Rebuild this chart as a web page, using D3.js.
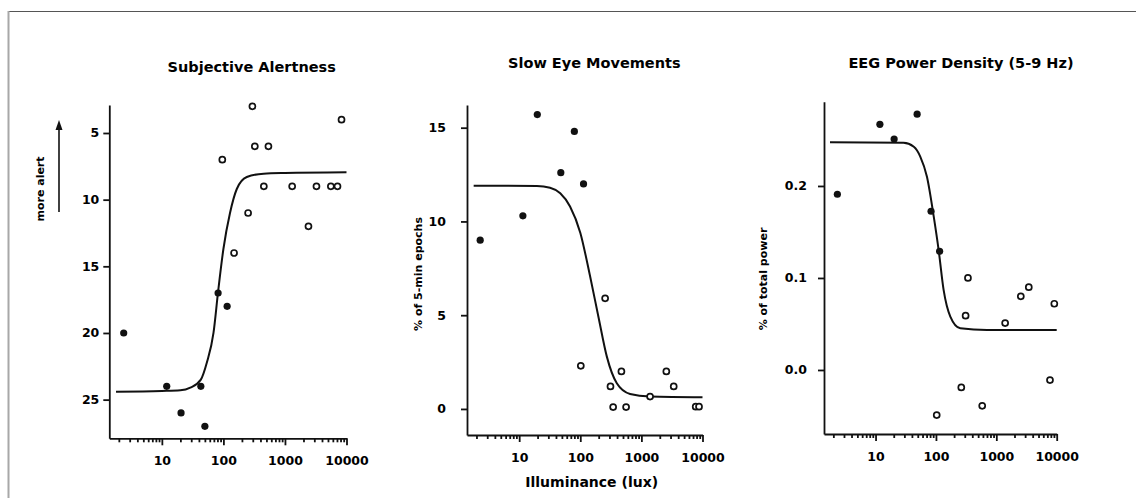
<!DOCTYPE html>
<html>
<head>
<meta charset="utf-8">
<script src="https://cdn.jsdelivr.net/npm/d3@7"></script>
<style>
  body { margin: 0; background: #fff; }
  svg text { font-family: "DejaVu Sans", "Liberation Sans", Arial, sans-serif; font-weight: bold; fill: #000; }
</style>
</head>
<body>
<svg id="chart" width="1136" height="498"></svg>
<script>
// [lux, value] pairs
const alertFilled = [[2.4, 20], [12, 24], [20.5, 26], [43, 24], [50, 27], [82, 17], [115, 18]];
const alertOpen = [[96, 7], [149, 14], [252, 11], [296, 3], [324, 6], [454, 9], [539, 6],
  [1310, 9], [2410, 12], [3250, 9], [5570, 9], [7140, 9], [8300, 4]];
const alertCurve = [[1.8, 24.4], [10, 24.35], [20, 24.3], [29, 24.1], [43, 23.5], [54, 22.2],
  [69, 20], [82, 16.9], [100, 13.7], [128, 11], [165, 9.2], [240, 8.3], [450, 8.05], [1000, 8.0], [10000, 7.95]];

const semFilled = [[2.3, 9], [11.5, 10.3], [19.8, 15.7], [48, 12.6], [80, 14.8], [113, 12]];
const semOpen = [[102, 2.3], [255, 5.9], [312, 1.2], [345, 0.1], [471, 2], [562, 0.1],
  [1387, 0.66], [2560, 2], [3380, 1.2], [7740, 0.12], [8770, 0.12]];
const semCurve = [[1.8, 11.91], [19.5, 11.89], [32, 11.8], [47, 11.5], [68, 10.8], [100, 9.4],
  [145, 7.06], [198, 4.92], [272, 2.79], [396, 1.37], [653, 0.8], [1387, 0.66], [10000, 0.62]];

const eegFilled = [[2.33, 0.191], [11.8, 0.267], [20.3, 0.251], [48.8, 0.278], [83, 0.1725], [115, 0.129]];
const eegOpen = [[103, -0.049], [263, -0.019], [310, 0.059], [339, 0.1], [584, -0.039],
  [1400, 0.051], [2545, 0.08], [3450, 0.09], [7740, -0.011], [9130, 0.072]];
const eegCurve = [[1.76, 0.2475], [29, 0.247], [43, 0.2427], [55, 0.232], [71, 0.21], [92, 0.1666],
  [111, 0.13], [134, 0.087], [173, 0.058], [253, 0.0453], [698, 0.0435], [10000, 0.0435]];

const xMajorTicks = [10, 100, 1000, 10000];
const alertTicks = [5, 10, 15, 20, 25];
const semTicks = [0, 5, 10, 15];
const eegTicks = [0.0, 0.1, 0.2];

const svg = d3.select("#chart");

// frame of the scanned figure
svg.append("line").attr("x1", 8).attr("x2", 1136).attr("y1", 11.5).attr("y2", 11.5)
  .attr("stroke", "#555").attr("stroke-width", 1.2);
svg.append("line").attr("x1", 8.5).attr("x2", 8.5).attr("y1", 11).attr("y2", 498)
  .attr("stroke", "#a8a8a8").attr("stroke-width", 2);

const panels = [
  {
    title: "Subjective Alertness", titleX: 251.7, titleY: 71.5,
    filled: alertFilled, open: alertOpen, curve: alertCurve, yTicks: alertTicks,
    xRange: [109.3, 346.5], yDomain: [2.9, 27.9], yRange: [105, 438.3],
    yPad: 4, yFormat: d3.format("d"),
  },
  {
    title: "Slow Eye Movements", titleX: 594.3, titleY: 68,
    filled: semFilled, open: semOpen, curve: semCurve, yTicks: semTicks,
    xRange: [467, 702.5], yDomain: [-1.39, 16.21], yRange: [435, 105],
    yPad: 15, yFormat: d3.format("d"),
    yLabel: "% of 5-min epochs", yLabelX: 418.5, yLabelY: 274,
  },
  {
    title: "EEG Power Density (5-9 Hz)", titleX: 961, titleY: 68,
    filled: eegFilled, open: eegOpen, curve: eegCurve, yTicks: eegTicks,
    xRange: [824, 1056.7], yDomain: [-0.0696, 0.2916], yRange: [434, 101.7],
    yPad: 11, yFormat: d3.format(".1f"),
    yLabel: "% of total power", yLabelX: 763.5, yLabelY: 279,
  },
];

const drawPanel = (p) => {
  const xScale = d3.scaleLog().domain([1.4, 10000]).range(p.xRange);
  const yScale = d3.scaleLinear().domain(p.yDomain).range(p.yRange);
  const bottom = Math.max(p.yRange[0], p.yRange[1]);
  const g = svg.append("g");

  const minor = xScale.ticks().filter((t) => !xMajorTicks.includes(t));

  g.append("g")
    .attr("transform", `translate(0, ${bottom})`)
    .call(d3.axisBottom(xScale).tickValues(minor).tickSize(4).tickSizeOuter(0).tickFormat(""))
    .call((a) => a.select(".domain").remove());

  g.append("g")
    .attr("transform", `translate(0, ${bottom})`)
    .call(d3.axisBottom(xScale).tickValues(xMajorTicks).tickSize(7).tickSizeOuter(0)
      .tickPadding(11).tickFormat(d3.format("d")))
    .call((a) => a.selectAll("text").style("font-size", "12.5px"));

  g.append("g")
    .attr("transform", `translate(${p.xRange[0]}, 0)`)
    .call(d3.axisLeft(yScale).tickValues(p.yTicks).tickSize(6).tickSizeOuter(0)
      .tickPadding(p.yPad).tickFormat(p.yFormat))
    .call((a) => a.selectAll("text").style("font-size", "12.5px"));

  g.selectAll(".domain, .tick line").attr("stroke", "#111").attr("stroke-width", 1.8);
  g.selectAll(".tick text").attr("fill", "#000");

  const line = d3.line()
    .x((d) => xScale(d[0]))
    .y((d) => yScale(d[1]))
    .curve(d3.curveMonotoneX);

  g.append("path")
    .datum(p.curve)
    .attr("d", line)
    .attr("fill", "none")
    .attr("stroke", "#111")
    .attr("stroke-width", 2);

  g.selectAll("circle.filled")
    .data(p.filled)
    .enter()
    .append("circle")
    .attr("class", "filled")
    .attr("cx", (d) => xScale(d[0]))
    .attr("cy", (d) => yScale(d[1]))
    .attr("r", 3.6)
    .attr("fill", "#111");

  g.selectAll("circle.open")
    .data(p.open)
    .enter()
    .append("circle")
    .attr("class", "open")
    .attr("cx", (d) => xScale(d[0]))
    .attr("cy", (d) => yScale(d[1]))
    .attr("r", 3)
    .attr("fill", "#fff")
    .attr("stroke", "#111")
    .attr("stroke-width", 1.7);

  g.append("text")
    .attr("x", p.titleX)
    .attr("y", p.titleY)
    .attr("text-anchor", "middle")
    .style("font-size", "14.5px")
    .text(p.title);

  if (p.yLabel) {
    g.append("text")
      .attr("transform", `translate(${p.yLabelX}, ${p.yLabelY}) rotate(-90)`)
      .attr("text-anchor", "middle")
      .attr("dy", "0.35em")
      .style("font-size", "11px")
      .text(p.yLabel);
  }
};

panels.forEach(drawPanel);

// "more alert" label with its arrow
svg.append("text")
  .attr("transform", "translate(40, 189) rotate(-90)")
  .attr("text-anchor", "middle")
  .attr("dy", "0.35em")
  .style("font-size", "11px")
  .text("more alert");

svg.append("line")
  .attr("x1", 59).attr("x2", 59).attr("y1", 212).attr("y2", 128)
  .attr("stroke", "#111").attr("stroke-width", 1.6);
svg.append("path")
  .attr("d", "M59,120 L55.5,130 L62.5,130 Z")
  .attr("fill", "#111");

svg.append("text")
  .attr("x", 591.7)
  .attr("y", 486.5)
  .attr("text-anchor", "middle")
  .style("font-size", "14px")
  .text("Illuminance (lux)");
</script>
</body>
</html>
